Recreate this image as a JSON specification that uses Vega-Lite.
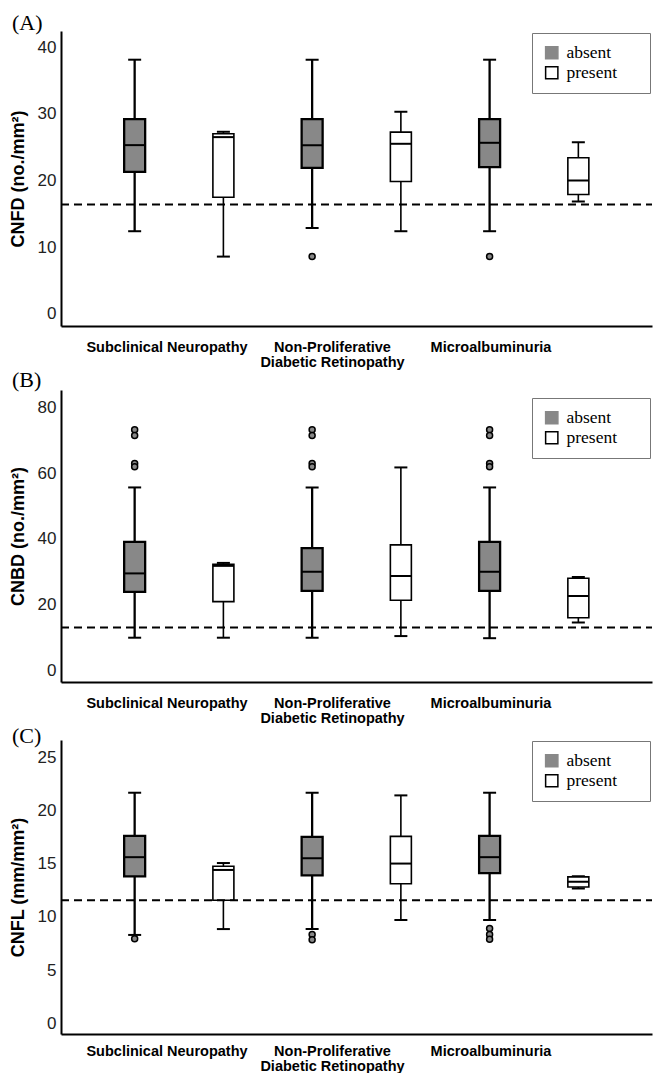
{
  "$schema": "https://vega.github.io/schema/vega-lite/v6.json",
  "padding": {"left": 9, "top": 12, "right": 0, "bottom": 0},
  "spacing": 0,
  "config": {
    "view": {"stroke": null},
    "font": "Liberation Sans",
    "title": {"anchor": "start", "frame": "bounds", "font": "Liberation Serif", "fontSize": 22, "fontWeight": "normal", "offset": -4, "dx": 3, "color": "black"},
    "axisX": {"ticks": false, "title": null, "grid": false, "domainColor": "black", "domainWidth": 2, "labelFont": "Liberation Sans", "labelFontWeight": "bold", "labelFontSize": 14.5, "labelPadding": 14, "labelColor": "black", "labelLineHeight": 15, "labelAngle": 0},
    "axisY": {"ticks": false, "grid": false, "domainColor": "black", "domainWidth": 2, "labelFont": "Liberation Sans", "labelFontSize": 17, "labelColor": "#222", "labelPadding": 5, "titleFont": "Liberation Sans", "titleFontSize": 18, "titleFontWeight": "bold", "titleColor": "black", "titlePadding": 10, "minExtent": 24, "maxExtent": 24},
    "legend": {"strokeColor": "#777", "fillColor": "white", "padding": 11, "symbolType": "square", "symbolSize": 150, "symbolStrokeColor": "black", "symbolStrokeWidth": 1.5, "labelFont": "Liberation Serif", "labelFontSize": 17.5, "labelColor": "black", "labelOffset": 6, "rowPadding": 1, "titleOrient": "right", "titlePadding": 22, "titleFontSize": 10}
  },
  "datasets": {
    "boxes": [
      {"panel": "A", "group": "Subclinical Neuropathy", "status": "absent", "lo": 12.4, "q1": 21.3, "med": 25.3, "q3": 29.2, "hi": 38.1},
      {"panel": "A", "group": "Subclinical Neuropathy", "status": "present", "lo": 8.6, "q1": 17.5, "med": 26.5, "q3": 27.0, "hi": 27.3},
      {"panel": "A", "group": "Non-Proliferative Diabetic Retinopathy", "status": "absent", "lo": 12.9, "q1": 21.9, "med": 25.3, "q3": 29.2, "hi": 38.1},
      {"panel": "A", "group": "Non-Proliferative Diabetic Retinopathy", "status": "present", "lo": 12.4, "q1": 19.85, "med": 25.5, "q3": 27.25, "hi": 30.3},
      {"panel": "A", "group": "Microalbuminuria", "status": "absent", "lo": 12.4, "q1": 22.0, "med": 25.65, "q3": 29.2, "hi": 38.1},
      {"panel": "A", "group": "Microalbuminuria", "status": "present", "lo": 16.85, "q1": 17.9, "med": 20.0, "q3": 23.4, "hi": 25.75},
      {"panel": "B", "group": "Subclinical Neuropathy", "status": "absent", "lo": 9.9, "q1": 23.9, "med": 29.5, "q3": 39.1, "hi": 55.7},
      {"panel": "B", "group": "Subclinical Neuropathy", "status": "present", "lo": 9.9, "q1": 20.9, "med": 31.8, "q3": 32.3, "hi": 32.7},
      {"panel": "B", "group": "Non-Proliferative Diabetic Retinopathy", "status": "absent", "lo": 9.9, "q1": 24.2, "med": 30.0, "q3": 37.2, "hi": 55.7},
      {"panel": "B", "group": "Non-Proliferative Diabetic Retinopathy", "status": "present", "lo": 10.4, "q1": 21.3, "med": 28.7, "q3": 38.2, "hi": 61.8},
      {"panel": "B", "group": "Microalbuminuria", "status": "absent", "lo": 9.75, "q1": 24.2, "med": 30.0, "q3": 39.1, "hi": 55.7},
      {"panel": "B", "group": "Microalbuminuria", "status": "present", "lo": 14.5, "q1": 16.0, "med": 22.6, "q3": 28.0, "hi": 28.4},
      {"panel": "C", "group": "Subclinical Neuropathy", "status": "absent", "lo": 8.3, "q1": 13.8, "med": 15.6, "q3": 17.6, "hi": 21.65},
      {"panel": "C", "group": "Subclinical Neuropathy", "status": "present", "lo": 8.85, "q1": 11.55, "med": 14.4, "q3": 14.75, "hi": 15.05},
      {"panel": "C", "group": "Non-Proliferative Diabetic Retinopathy", "status": "absent", "lo": 8.85, "q1": 13.9, "med": 15.5, "q3": 17.5, "hi": 21.65},
      {"panel": "C", "group": "Non-Proliferative Diabetic Retinopathy", "status": "present", "lo": 9.7, "q1": 13.1, "med": 15.0, "q3": 17.55, "hi": 21.4},
      {"panel": "C", "group": "Microalbuminuria", "status": "absent", "lo": 9.7, "q1": 14.1, "med": 15.6, "q3": 17.6, "hi": 21.65},
      {"panel": "C", "group": "Microalbuminuria", "status": "present", "lo": 12.65, "q1": 12.8, "med": 13.3, "q3": 13.75, "hi": 13.8}
    ],
    "outliers": [
      {"panel": "A", "group": "Non-Proliferative Diabetic Retinopathy", "status": "absent", "value": 8.6},
      {"panel": "A", "group": "Microalbuminuria", "status": "absent", "value": 8.6},
      {"panel": "B", "group": "Subclinical Neuropathy", "status": "absent", "value": 73.3},
      {"panel": "B", "group": "Subclinical Neuropathy", "status": "absent", "value": 71.5},
      {"panel": "B", "group": "Subclinical Neuropathy", "status": "absent", "value": 63.0},
      {"panel": "B", "group": "Subclinical Neuropathy", "status": "absent", "value": 62.0},
      {"panel": "B", "group": "Non-Proliferative Diabetic Retinopathy", "status": "absent", "value": 73.3},
      {"panel": "B", "group": "Non-Proliferative Diabetic Retinopathy", "status": "absent", "value": 71.5},
      {"panel": "B", "group": "Non-Proliferative Diabetic Retinopathy", "status": "absent", "value": 63.0},
      {"panel": "B", "group": "Non-Proliferative Diabetic Retinopathy", "status": "absent", "value": 62.0},
      {"panel": "B", "group": "Microalbuminuria", "status": "absent", "value": 73.3},
      {"panel": "B", "group": "Microalbuminuria", "status": "absent", "value": 71.5},
      {"panel": "B", "group": "Microalbuminuria", "status": "absent", "value": 63.0},
      {"panel": "B", "group": "Microalbuminuria", "status": "absent", "value": 62.0},
      {"panel": "C", "group": "Subclinical Neuropathy", "status": "absent", "value": 7.95},
      {"panel": "C", "group": "Non-Proliferative Diabetic Retinopathy", "status": "absent", "value": 8.35},
      {"panel": "C", "group": "Non-Proliferative Diabetic Retinopathy", "status": "absent", "value": 7.85},
      {"panel": "C", "group": "Microalbuminuria", "status": "absent", "value": 8.9},
      {"panel": "C", "group": "Microalbuminuria", "status": "absent", "value": 8.35},
      {"panel": "C", "group": "Microalbuminuria", "status": "absent", "value": 7.9}
    ],
    "thresholds": [
      {"panel": "A", "value": 16.4},
      {"panel": "B", "value": 13.0},
      {"panel": "C", "value": 11.55}
    ]
  },
  "resolve": {"scale": {"y": "independent", "fill": "independent"}, "legend": {"fill": "independent"}},
  "vconcat": [
    {
      "title": {"text": "(A)", "offset": -4},
      "width": 591, "height": 295,
      "encoding": {
        "x": {"field": "group", "type": "nominal", "scale": {"domain": ["Subclinical Neuropathy", "Non-Proliferative Diabetic Retinopathy", "Microalbuminuria"], "paddingInner": 0, "paddingOuter": 0.165},
          "axis": {"labelPadding": 14, "labelExpr": "datum.label == 'Non-Proliferative Diabetic Retinopathy' ? ['Non-Proliferative', 'Diabetic Retinopathy'] : datum.label", "labelOffset": {"expr": "datum.value == 'Subclinical Neuropathy' ? -12 : datum.value == 'Microalbuminuria' ? -43 : -24"}}},
        "xOffset": {"field": "status", "type": "nominal", "scale": {"domain": ["absent", "present"], "paddingInner": 0, "paddingOuter": 0}}
      },
      "layer": [
        {"data": {"name": "boxes"}, "transform": [{"filter": "datum.panel == 'A'"}],
          "mark": {"type": "rule", "color": "black"},
          "encoding": {"y": {"field": "lo", "type": "quantitative", "scale": {"domain": [-1.8, 42.4], "nice": false, "zero": false}, "axis": {"title": "CNFD (no./mm²)", "values": [0, 10, 20, 30, 40]}}, "y2": {"field": "hi"},
            "strokeWidth": {"field": "status", "type": "nominal", "scale": {"domain": ["absent", "present"], "range": [2.3, 1.6]}, "legend": null}}},
        {"data": {"name": "boxes"}, "transform": [{"filter": "datum.panel == 'A'"}],
          "mark": {"type": "tick", "color": "black", "size": 13, "thickness": 2, "opacity": 1},
          "encoding": {"y": {"field": "lo", "type": "quantitative"}}},
        {"data": {"name": "boxes"}, "transform": [{"filter": "datum.panel == 'A'"}],
          "mark": {"type": "tick", "color": "black", "size": 13, "thickness": 2, "opacity": 1},
          "encoding": {"y": {"field": "hi", "type": "quantitative"}}},
        {"data": {"name": "boxes"}, "transform": [{"filter": "datum.panel == 'A'"}],
          "mark": {"type": "bar", "size": 21, "stroke": "black"},
          "encoding": {"y": {"field": "q1", "type": "quantitative"}, "y2": {"field": "q3"},
            "fill": {"field": "status", "type": "nominal", "scale": {"domain": ["absent", "present"], "range": ["#888888", "#ffffff"]},
              "legend": {"orient": "none", "legendX": 471, "legendY": 2, "title": "\u00a0", "encode": {"symbols": {"update": {"stroke": {"signal": "datum.value === 'absent' ? '#888888' : 'black'"}}}}}},
            "strokeWidth": {"field": "status", "type": "nominal", "legend": null}}},
        {"data": {"name": "boxes"}, "transform": [{"filter": "datum.panel == 'A'"}],
          "mark": {"type": "tick", "color": "black", "size": 21, "thickness": 2, "opacity": 1},
          "encoding": {"y": {"field": "med", "type": "quantitative"}}},
        {"data": {"name": "outliers"}, "transform": [{"filter": "datum.panel == 'A'"}],
          "mark": {"type": "point", "filled": true, "fill": "#888888", "stroke": "black", "strokeWidth": 1.5, "size": 36, "opacity": 1},
          "encoding": {"y": {"field": "value", "type": "quantitative"}}},
        {"data": {"name": "thresholds"}, "transform": [{"filter": "datum.panel == 'A'"}],
          "mark": {"type": "rule", "color": "black", "strokeWidth": 2, "strokeDash": [8, 5]},
          "encoding": {"x": {"value": 0}, "x2": {"value": 591}, "xOffset": null, "y": {"field": "value", "type": "quantitative"}}}
      ]
    },
    {
      "title": {"text": "(B)", "offset": -2},
      "width": 591, "height": 292,
      "encoding": {
        "x": {"field": "group", "type": "nominal", "scale": {"domain": ["Subclinical Neuropathy", "Non-Proliferative Diabetic Retinopathy", "Microalbuminuria"], "paddingInner": 0, "paddingOuter": 0.165},
          "axis": {"labelPadding": 14, "labelExpr": "datum.label == 'Non-Proliferative Diabetic Retinopathy' ? ['Non-Proliferative', 'Diabetic Retinopathy'] : datum.label", "labelOffset": {"expr": "datum.value == 'Subclinical Neuropathy' ? -12 : datum.value == 'Microalbuminuria' ? -43 : -24"}}},
        "xOffset": {"field": "status", "type": "nominal", "scale": {"domain": ["absent", "present"], "paddingInner": 0, "paddingOuter": 0}}
      },
      "layer": [
        {"data": {"name": "boxes"}, "transform": [{"filter": "datum.panel == 'B'"}],
          "mark": {"type": "rule", "color": "black"},
          "encoding": {"y": {"field": "lo", "type": "quantitative", "scale": {"domain": [-3.6, 85.4], "nice": false, "zero": false}, "axis": {"title": "CNBD (no./mm²)", "values": [0, 20, 40, 60, 80]}}, "y2": {"field": "hi"},
            "strokeWidth": {"field": "status", "type": "nominal", "scale": {"domain": ["absent", "present"], "range": [2.3, 1.6]}, "legend": null}}},
        {"data": {"name": "boxes"}, "transform": [{"filter": "datum.panel == 'B'"}],
          "mark": {"type": "tick", "color": "black", "size": 13, "thickness": 2, "opacity": 1},
          "encoding": {"y": {"field": "lo", "type": "quantitative"}}},
        {"data": {"name": "boxes"}, "transform": [{"filter": "datum.panel == 'B'"}],
          "mark": {"type": "tick", "color": "black", "size": 13, "thickness": 2, "opacity": 1},
          "encoding": {"y": {"field": "hi", "type": "quantitative"}}},
        {"data": {"name": "boxes"}, "transform": [{"filter": "datum.panel == 'B'"}],
          "mark": {"type": "bar", "size": 21, "stroke": "black"},
          "encoding": {"y": {"field": "q1", "type": "quantitative"}, "y2": {"field": "q3"},
            "fill": {"field": "status", "type": "nominal", "scale": {"domain": ["absent", "present"], "range": ["#888888", "#ffffff"]},
              "legend": {"orient": "none", "legendX": 471, "legendY": 8, "title": "\u00a0", "encode": {"symbols": {"update": {"stroke": {"signal": "datum.value === 'absent' ? '#888888' : 'black'"}}}}}},
            "strokeWidth": {"field": "status", "type": "nominal", "legend": null}}},
        {"data": {"name": "boxes"}, "transform": [{"filter": "datum.panel == 'B'"}],
          "mark": {"type": "tick", "color": "black", "size": 21, "thickness": 2, "opacity": 1},
          "encoding": {"y": {"field": "med", "type": "quantitative"}}},
        {"data": {"name": "outliers"}, "transform": [{"filter": "datum.panel == 'B'"}],
          "mark": {"type": "point", "filled": true, "fill": "#888888", "stroke": "black", "strokeWidth": 1.5, "size": 36, "opacity": 1},
          "encoding": {"y": {"field": "value", "type": "quantitative"}}},
        {"data": {"name": "thresholds"}, "transform": [{"filter": "datum.panel == 'B'"}],
          "mark": {"type": "rule", "color": "black", "strokeWidth": 2, "strokeDash": [8, 5]},
          "encoding": {"x": {"value": 0}, "x2": {"value": 591}, "xOffset": null, "y": {"field": "value", "type": "quantitative"}}}
      ]
    },
    {
      "title": {"text": "(C)", "offset": -8},
      "width": 591, "height": 294,
      "encoding": {
        "x": {"field": "group", "type": "nominal", "scale": {"domain": ["Subclinical Neuropathy", "Non-Proliferative Diabetic Retinopathy", "Microalbuminuria"], "paddingInner": 0, "paddingOuter": 0.165},
          "axis": {"labelPadding": 10, "labelExpr": "datum.label == 'Non-Proliferative Diabetic Retinopathy' ? ['Non-Proliferative', 'Diabetic Retinopathy'] : datum.label", "labelOffset": {"expr": "datum.value == 'Subclinical Neuropathy' ? -12 : datum.value == 'Microalbuminuria' ? -43 : -24"}}},
        "xOffset": {"field": "status", "type": "nominal", "scale": {"domain": ["absent", "present"], "paddingInner": 0, "paddingOuter": 0}}
      },
      "layer": [
        {"data": {"name": "boxes"}, "transform": [{"filter": "datum.panel == 'C'"}],
          "mark": {"type": "rule", "color": "black"},
          "encoding": {"y": {"field": "lo", "type": "quantitative", "scale": {"domain": [-1.0, 26.6], "nice": false, "zero": false}, "axis": {"title": "CNFL (mm/mm²)", "values": [0, 5, 10, 15, 20, 25]}}, "y2": {"field": "hi"},
            "strokeWidth": {"field": "status", "type": "nominal", "scale": {"domain": ["absent", "present"], "range": [2.3, 1.6]}, "legend": null}}},
        {"data": {"name": "boxes"}, "transform": [{"filter": "datum.panel == 'C'"}],
          "mark": {"type": "tick", "color": "black", "size": 13, "thickness": 2, "opacity": 1},
          "encoding": {"y": {"field": "lo", "type": "quantitative"}}},
        {"data": {"name": "boxes"}, "transform": [{"filter": "datum.panel == 'C'"}],
          "mark": {"type": "tick", "color": "black", "size": 13, "thickness": 2, "opacity": 1},
          "encoding": {"y": {"field": "hi", "type": "quantitative"}}},
        {"data": {"name": "boxes"}, "transform": [{"filter": "datum.panel == 'C'"}],
          "mark": {"type": "bar", "size": 21, "stroke": "black"},
          "encoding": {"y": {"field": "q1", "type": "quantitative"}, "y2": {"field": "q3"},
            "fill": {"field": "status", "type": "nominal", "scale": {"domain": ["absent", "present"], "range": ["#888888", "#ffffff"]},
              "legend": {"orient": "none", "legendX": 471, "legendY": 1, "title": "\u00a0", "encode": {"symbols": {"update": {"stroke": {"signal": "datum.value === 'absent' ? '#888888' : 'black'"}}}}}},
            "strokeWidth": {"field": "status", "type": "nominal", "legend": null}}},
        {"data": {"name": "boxes"}, "transform": [{"filter": "datum.panel == 'C'"}],
          "mark": {"type": "tick", "color": "black", "size": 21, "thickness": 2, "opacity": 1},
          "encoding": {"y": {"field": "med", "type": "quantitative"}}},
        {"data": {"name": "outliers"}, "transform": [{"filter": "datum.panel == 'C'"}],
          "mark": {"type": "point", "filled": true, "fill": "#888888", "stroke": "black", "strokeWidth": 1.5, "size": 36, "opacity": 1},
          "encoding": {"y": {"field": "value", "type": "quantitative"}}},
        {"data": {"name": "thresholds"}, "transform": [{"filter": "datum.panel == 'C'"}],
          "mark": {"type": "rule", "color": "black", "strokeWidth": 2, "strokeDash": [8, 5]},
          "encoding": {"x": {"value": 0}, "x2": {"value": 591}, "xOffset": null, "y": {"field": "value", "type": "quantitative"}}}
      ]
    }
  ]
}
